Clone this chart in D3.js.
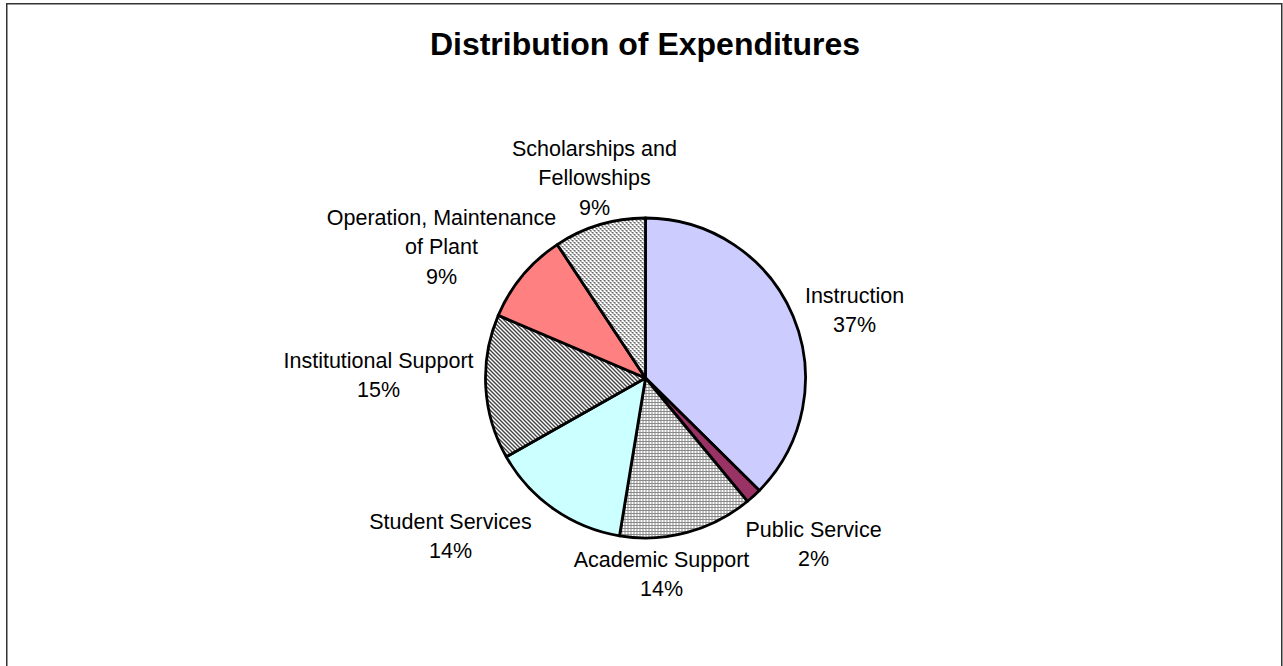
<!DOCTYPE html>
<html>
<head>
<meta charset="utf-8">
<script src="https://cdn.jsdelivr.net/npm/d3@7"></script>
<style>
  html, body { margin: 0; padding: 0; background: #fff; }
  svg { display: block; }
  text { font-family: "Liberation Sans", Arial, sans-serif; fill: #000; }
</style>
</head>
<body>
<svg id="chart" width="1283" height="666"></svg>
<script>
// Expenditure categories, clockwise from 12 o'clock
const categories = [
  "Instruction",
  "Public Service",
  "Academic Support",
  "Student Services",
  "Institutional Support",
  "Operation, Maintenance of Plant",
  "Scholarships and Fellowships"
];
// Share of total expenditures (percent)
const shares = [37.4, 1.6, 13.6, 14.2, 14.6, 9.3, 9.3];
// Wrapped label lines for each category
const labelLines = [
  ["Instruction"],
  ["Public Service"],
  ["Academic Support"],
  ["Student Services"],
  ["Institutional Support"],
  ["Operation, Maintenance", "of Plant"],
  ["Scholarships and", "Fellowships"]
];
// Slice fills: solid colours or pattern ids
const fills = ["#CCCCFF", "#993366", "url(#grid)", "#CCFFFF", "url(#hatchDark)", "#FF8080", "url(#hatchLight)"];

// Label block placement relative to the pie centre: centre x, first line y
const labelOffsets = [
  [209, -83],
  [168, 151],
  [16, 181],
  [-195, 143],
  [-267, -18],
  [-204, -161],
  [-51, -230]
];

const W = 1283, H = 666;
const cx = 645.5, cy = 378, R = 160;
const svg = d3.select("#chart");

// Fill patterns
const defs = svg.append("defs");
const grid = defs.append("pattern").attr("id", "grid")
  .attr("patternUnits", "userSpaceOnUse").attr("width", 3).attr("height", 3);
grid.append("rect").attr("width", 3).attr("height", 3).attr("fill", "#8a8a8a");
grid.append("rect").attr("x", 1).attr("y", 1).attr("width", 2).attr("height", 2).attr("fill", "#ffffff");

const hd = defs.append("pattern").attr("id", "hatchDark")
  .attr("patternUnits", "userSpaceOnUse").attr("width", 4).attr("height", 4);
hd.append("rect").attr("width", 4).attr("height", 4).attr("fill", "#ffffff");
[[0,0],[1,0],[1,1],[2,1],[2,2],[3,2],[3,3],[0,3]].forEach(([x, y]) =>
  hd.append("rect").attr("x", x).attr("y", y).attr("width", 1).attr("height", 1).attr("fill", "#444"));

const hl = defs.append("pattern").attr("id", "hatchLight")
  .attr("patternUnits", "userSpaceOnUse").attr("width", 4).attr("height", 4);
hl.append("rect").attr("width", 4).attr("height", 4).attr("fill", "#ffffff");
[[0,0],[1,1],[2,2],[3,3],[1,0],[3,2]].forEach(([x, y]) =>
  hl.append("rect").attr("x", x).attr("y", y).attr("width", 1).attr("height", 1).attr("fill", "#666"));

// Chart frame
svg.append("rect")
  .attr("x", 6.75).attr("y", 3.75)
  .attr("width", 1275).attr("height", 664)
  .attr("fill", "none").attr("stroke", "#333").attr("stroke-width", 1.5);

// Title
svg.append("text")
  .attr("x", 645).attr("y", 55)
  .attr("text-anchor", "middle")
  .attr("font-size", 32).attr("font-weight", "bold")
  .text("Distribution of Expenditures");

// Pie
const pie = d3.pie().sort(null).value(d => d.value);
const data = categories.map((c, i) => ({ name: c, value: shares[i], fill: fills[i], i }));
const arcs = pie(data);
const arc = d3.arc().innerRadius(0).outerRadius(R);

const g = svg.append("g").attr("transform", `translate(${cx},${cy})`);
g.selectAll("path.slice")
  .data(arcs)
  .join("path")
  .attr("class", "slice")
  .attr("d", arc)
  .attr("fill", d => d.data.fill)
  .attr("stroke", "#000")
  .attr("stroke-width", 2.8)
  .attr("stroke-linejoin", "round");

// Labels: category lines followed by the rounded percentage
const total = d3.sum(shares);
const lineH = 29.5;
const labels = g.selectAll("g.label")
  .data(arcs)
  .join("g")
  .attr("class", "label");

labels.each(function(d) {
  const sel = d3.select(this);
  const i = d.data.i;
  const [lx, ly] = labelOffsets[i];
  const lines = labelLines[i].concat([Math.round(d.data.value / total * 100) + "%"]);
  lines.forEach((t, k) => {
    sel.append("text")
      .attr("x", lx).attr("y", ly + k * lineH)
      .attr("dy", "0.35em")
      .attr("text-anchor", "middle")
      .attr("font-size", 21.5)
      .text(t);
  });
});
</script>
</body>
</html>
